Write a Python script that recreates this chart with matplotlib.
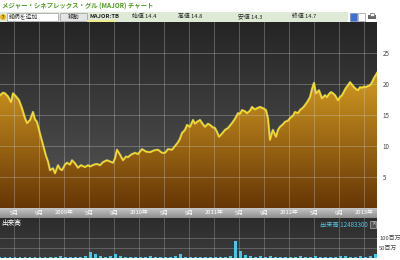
import numpy as np
import matplotlib
matplotlib.use("Agg")
import matplotlib.pyplot as plt
from matplotlib.patches import Rectangle, Circle

plt.rcParams['font.family'] = ['Noto Sans CJK JP', 'DejaVu Sans']

# price data: months since Jan 2008, close price (THB)
months = [1.76, 2.24, 2.56, 3.04, 3.52, 3.84, 4.32, 4.80, 5.28, 5.76, 6.08, 6.56, 7.04, 7.36, 7.68,
          8.16, 8.64, 9.12, 9.44, 9.76, 10.24, 10.56, 11.04, 11.36, 11.68, 12.16, 12.48, 12.96,
          13.28, 13.76, 14.24, 14.72, 15.36, 15.84, 16.16, 16.80, 17.28, 17.76, 18.24, 18.88,
          19.36, 19.84, 20.16, 20.48, 20.96, 21.44, 21.92, 22.24, 22.72, 23.36, 23.84, 24.48,
          25.12, 25.76, 26.40, 27.04, 27.68, 28.16, 28.64, 29.28, 29.76, 30.24, 30.56, 30.88,
          31.36, 31.68, 32.16, 32.64, 32.96, 33.28, 33.76, 34.24, 34.56, 35.04, 35.36, 35.84,
          36.16, 36.48, 36.80, 37.28, 37.76, 38.24, 38.88, 39.36, 39.84, 40.16, 40.48, 40.96,
          41.28, 41.76, 42.08, 42.56, 42.88, 43.36, 43.84, 44.32, 44.64, 44.96, 45.28, 45.44,
          45.76, 45.92, 46.24, 46.56, 47.04, 47.36, 47.84, 48.16, 48.64, 48.96, 49.44, 49.76,
          50.24, 50.56, 51.04, 51.36, 51.68, 52.00, 52.32, 52.80, 53.28, 53.76, 54.08, 54.40,
          54.72, 55.04, 55.36, 55.84, 56.16, 56.48, 56.80, 57.12, 57.44, 57.76, 58.08, 58.40,
          58.72, 59.04, 59.36, 59.68, 60.00, 60.32, 60.64, 60.96, 61.28, 61.60, 61.92, 62.08]
prices = [18.2, 18.6, 18.5, 18.0, 17.1, 18.5, 18.0, 17.4, 16.1, 14.5, 13.7, 14.2, 15.5, 14.3, 13.9,
          12.0, 10.2, 8.4, 7.5, 6.1, 6.4, 5.6, 6.9, 6.3, 6.1, 7.0, 7.3, 7.0,
          7.7, 7.2, 6.5, 6.9, 6.6, 6.9, 6.7, 7.0, 7.1, 6.9, 7.4, 7.7,
          7.5, 7.3, 8.0, 9.4, 8.6, 7.7, 8.3, 8.2, 8.6, 8.9, 8.7, 9.5,
          9.1, 9.0, 9.3, 9.4, 8.9, 8.9, 9.5, 9.4, 10.0, 10.6, 11.2, 12.1,
          12.6, 13.4, 13.1, 14.2, 13.6, 13.9, 14.2, 13.5, 13.1, 13.6, 13.4, 13.0,
          12.9, 12.3, 11.5, 12.0, 12.6, 12.9, 13.7, 14.4, 15.3, 15.2, 15.8, 15.6,
          15.3, 15.7, 16.3, 15.9, 16.1, 16.3, 16.1, 15.8, 14.5, 11.0, 12.2, 12.6,
          11.8, 11.5, 12.6, 13.1, 13.5, 13.9, 14.1, 14.5, 14.9, 15.5, 15.3, 15.8,
          16.2, 16.6, 17.3, 17.9, 19.2, 20.2, 18.5, 19.0, 17.7, 18.2, 17.9, 18.4,
          18.7, 18.5, 18.2, 17.4, 17.9, 18.2, 18.8, 19.4, 19.8, 20.3, 19.9, 19.5,
          19.2, 19.0, 19.5, 19.4, 19.6, 19.5, 19.7, 19.8, 20.3, 21.0, 21.5, 21.8]

# volume in millions of shares (roughly every 0.8 month)
volume = [4, 3, 4, 5, 6, 4, 3, 4, 3, 4, 5, 6, 8, 5, 4, 5, 6, 8, 30, 18,
          8, 6, 12, 20, 8, 5, 4, 5, 6, 4, 10, 5, 4, 5, 6, 12, 18, 6, 5, 4,
          5, 6, 5, 4, 5, 6, 8, 85, 35, 15, 8, 6, 10, 7, 8, 6, 5, 6, 5, 7,
          10, 6, 5, 8, 6, 5, 6, 4, 8, 10, 6, 5, 8, 6, 12, 20]

tick_months = [4, 8, 12, 16, 20, 24, 28, 32, 36, 40, 44, 48, 52, 56, 60]
tick_labels = ['5月', '9月', '2009年', '5月', '9月', '2010年', '5月', '9月', '2011年',
               '5月', '9月', '2012年', '5月', '9月', '2013年']
price_ticks = [5, 10, 15, 20, 25]
vol_ticks = [50, 100]
vol_tick_labels = ['50百万', '100百万']

header_fields = [('始値', '14.4'), ('高値', '14.8'), ('安値', '14.3'), ('終値', '14.7')]

W, H = 400, 260
XMIN, XMAX = 1.76, 62.08


def rect(x0, y0, x1, y1):
    return [x0 / W, 1 - y1 / H, (x1 - x0) / W, (y1 - y0) / H]


def vgrad(ax, top, bottom, extent, zorder=0):
    c0 = np.array(matplotlib.colors.to_rgb(top))
    c1 = np.array(matplotlib.colors.to_rgb(bottom))
    t = np.linspace(0, 1, 256)[:, None]
    img = (c0 * (1 - t) + c1 * t)[:, None, :]
    return ax.imshow(img, extent=extent, aspect='auto', origin='upper',
                     zorder=zorder, interpolation='bilinear')


fig = plt.figure(figsize=(4, 2.6), dpi=100)
fig.patch.set_facecolor('white')

# header
hd = fig.add_axes(rect(0, 0, 400, 22))
hd.set_xlim(0, 400)
hd.set_ylim(22, 0)
hd.axis('off')
hd.text(2, 6, 'メジャー・シネプレックス・グル (MAJOR) チャート', fontsize=4.6,
        color='#4f9a22', fontweight='bold', va='center')
hd.add_patch(Rectangle((0, 12), 348, 10, color='#dfead6', lw=0))
hd.add_patch(Circle((3, 17), 2.3, color='#e8b820'))
hd.text(3, 17.2, '?', fontsize=3, color='#503000', ha='center', va='center', fontweight='bold')
hd.add_patch(Rectangle((7, 12.8), 51, 8.4, facecolor='white', edgecolor='#9a9a9a', lw=0.5))
hd.text(9, 17, '銘柄を追加', fontsize=4.2, color='#333333', va='center')
hd.add_patch(Rectangle((60, 12.8), 27, 8.4, facecolor='#e4e4e4', edgecolor='#9a9a9a', lw=0.5))
hd.text(73.5, 17, '移動', fontsize=4.2, color='#333333', va='center', ha='center')
hd.add_patch(Rectangle((87, 19.5), 29, 2, color='#f2ec90', lw=0))
hd.text(89, 16.5, 'MAJOR:TB', fontsize=4.2, color='#222222', va='center', fontweight='bold')
for (name, val), xp in zip(header_fields, [132, 178, 238, 292]):
    hd.text(xp, 16.5, name + ' ' + val, fontsize=4.2, color='#222222', va='center')
hd.add_patch(Rectangle((350, 13), 7, 8, facecolor='#3b6fd8', edgecolor='#7a8ab0', lw=0.5))
hd.add_patch(Rectangle((358, 13), 7, 8, facecolor='white', edgecolor='#9a9a9a', lw=0.5))
hd.add_patch(Rectangle((368, 15), 8, 4, facecolor='#666666', lw=0))
hd.add_patch(Rectangle((370, 12.5), 4, 3, facecolor='white', edgecolor='#666666', lw=0.5))

# main price panel
ax = fig.add_axes(rect(0, 22, 377, 208))
ax.set_xlim(XMIN, XMAX)
ax.set_ylim(0, 30)
vgrad(ax, '#252525', '#565656', [XMIN, XMAX, 0, 30], zorder=0)
poly = ax.fill_between(months, prices, 0, color='none', lw=0, zorder=1)
fill_img = vgrad(ax, '#d49c22', '#663606', [XMIN, XMAX, 0, 22], zorder=1)
fill_img.set_clip_path(poly.get_paths()[0], transform=ax.transData)
for m in tick_months:
    ax.axvline(m, color='#d8d8d8', lw=0.6, alpha=0.35, zorder=2)
for p in price_ticks:
    ax.axhline(p, color='#d8d8d8', lw=0.6, alpha=0.35, zorder=2)
ax.plot(months, prices, color='#fff7a0', lw=1.6, alpha=0.5, zorder=3)
ax.plot(months, prices, color='#f6e01e', lw=0.9, zorder=4)
ax.set_xticks([])
ax.yaxis.tick_right()
ax.set_yticks(price_ticks)
ax.set_yticklabels([str(p) for p in price_ticks])
ax.tick_params(axis='y', length=0, pad=4, labelsize=4.5, labelcolor='#444444')
for s in ax.spines.values():
    s.set_visible(False)

# date bar
xb = fig.add_axes(rect(0, 208, 377, 218))
xb.set_xlim(XMIN, XMAX)
xb.set_ylim(0, 1)
vgrad(xb, '#c6c6c6', '#8e8e8e', [XMIN, XMAX, 0, 1])
for m, lab in zip(tick_months, tick_labels):
    xb.text(m, 0.5, lab, fontsize=4.2, color='white', ha='center', va='center')
xb.axis('off')

# volume panel
av = fig.add_axes(rect(0, 218, 377, 258))
av.set_xlim(XMIN, XMAX)
av.set_ylim(0, 200)
vgrad(av, '#2c2c2c', '#3c3c3c', [XMIN, XMAX, 0, 200])
vol_x = np.linspace(XMIN, XMAX - 0.2, len(volume))
for m in tick_months:
    av.axvline(m, color='#d8d8d8', lw=0.6, alpha=0.3, zorder=2)
for v in vol_ticks:
    av.axhline(v, color='#d8d8d8', lw=0.6, alpha=0.3, zorder=2)
av.bar(vol_x, volume, width=0.45, color='#46c8ea', lw=0, zorder=3)
av.set_xticks([])
av.yaxis.tick_right()
av.set_yticks(vol_ticks)
av.set_yticklabels(vol_tick_labels)
av.tick_params(axis='y', length=0, pad=1.5, labelsize=4.2, labelcolor='#444444')
for s in av.spines.values():
    s.set_visible(False)
av.text(0.003, 0.88, '出来高', transform=av.transAxes, fontsize=4.8, color='white', va='center')
av.text(0.975, 0.84, '出来高 12483300', transform=av.transAxes, fontsize=4.5,
        color='#4fc6ea', va='center', ha='right')
av.add_patch(Rectangle((0.982, 0.76), 0.016, 0.17, transform=av.transAxes,
                       facecolor='#555555', edgecolor='#cccccc', lw=0.4, zorder=5))
av.text(0.99, 0.845, '×', transform=av.transAxes, fontsize=3.5, color='white',
        ha='center', va='center', zorder=6)

fig.savefig('out.png', dpi=100)
